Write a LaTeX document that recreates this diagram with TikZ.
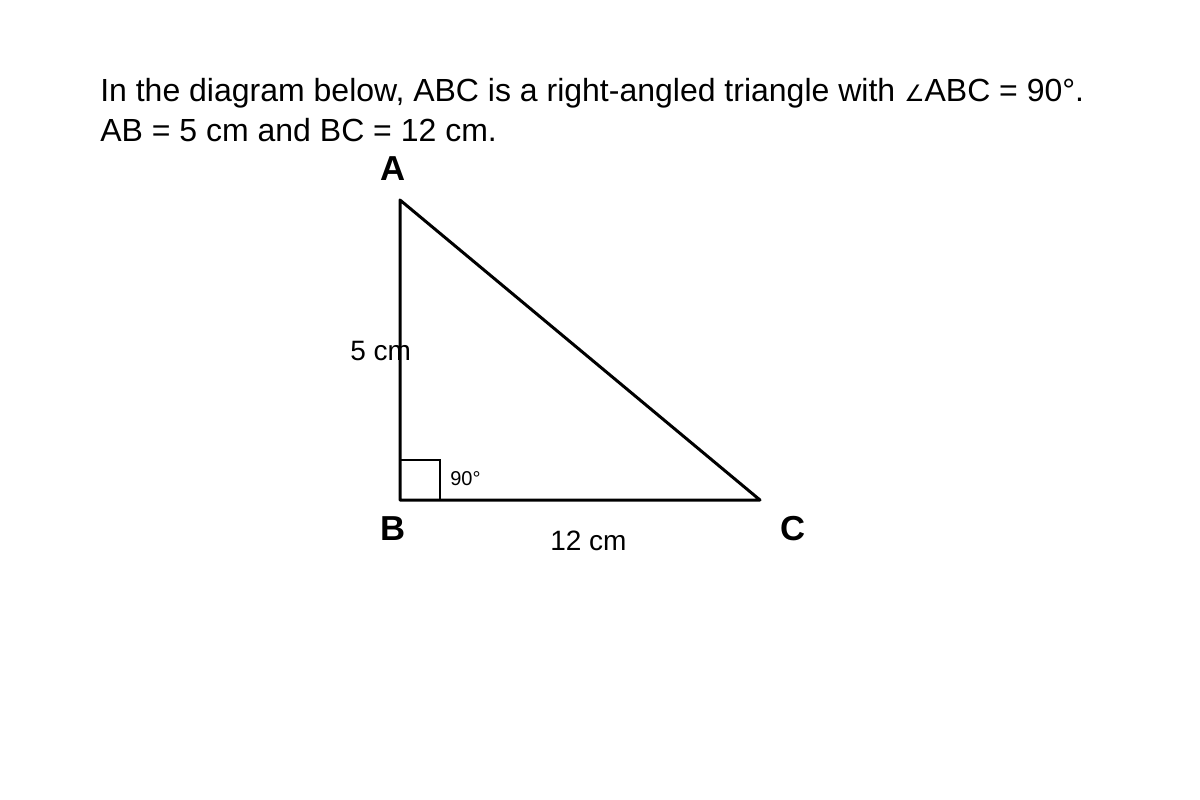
\documentclass[tikz,border=0pt]{standalone}
\usepackage{fontspec}
\setmainfont{Liberation Sans}
\newfontfamily\symfont{DejaVu Sans}
\usepackage{tikz}
\newlength{\TriLineWidth}
\setlength{\TriLineWidth}{2.25pt}
\tikzset{/tri/text/.style={
	anchor=base west, inner sep=0pt, font=\fontsize{24pt}{30pt}\selectfont
}}
\tikzset{/tri/vertex/.style={
	anchor=base west, inner sep=0pt, font=\fontsize{26pt}{30pt}\selectfont\bfseries
}}
\tikzset{/tri/side/.style={
	anchor=base west, inner sep=0pt, font=\fontsize{21pt}{24pt}\selectfont
}}
\tikzset{/tri/angle/.style={
	anchor=base west, inner sep=0pt, font=\fontsize{15pt}{17pt}\selectfont
}}
\begin{document}
\begin{tikzpicture}[x=0.75pt, y=-0.75pt]
			\useasboundingbox (0,0) rectangle (1200,800);
			\path node[/tri/text] (q1) at (100,101) {In the diagram below, ABC is a right-angled triangle with {\symfont\fontsize{17pt}{20pt}\selectfont ∠}ABC = 90°.};
			\path node[/tri/text] (q2) at (100,141) {AB = 5 cm and BC = 12 cm.};
			\coordinate (A) at (400,200);
			\coordinate (B) at (400,500);
			\coordinate (C) at (760,500);
			\draw[line width=\TriLineWidth, line join=round] (A) -- (B) -- (C) -- cycle;
			\draw[line width=1.5pt] (B) ++ (0,-40) coordinate (r1) -- ++ (40,0) coordinate (r2) -- ++ (0,40);
			\path node[/tri/vertex] (lA) at (380,180) {A};
			\path node[/tri/vertex] (lB) at (380,540) {B};
			\path node[/tri/vertex] (lC) at (780,540) {C};
			\path node[/tri/side] (lAB) at (350,360) {5 cm};
			\path node[/tri/side] (lBC) at (550,550) {12 cm};
			\path node[/tri/angle] (lang) at (450,485) {90°};
		\end{tikzpicture}
\end{document}
